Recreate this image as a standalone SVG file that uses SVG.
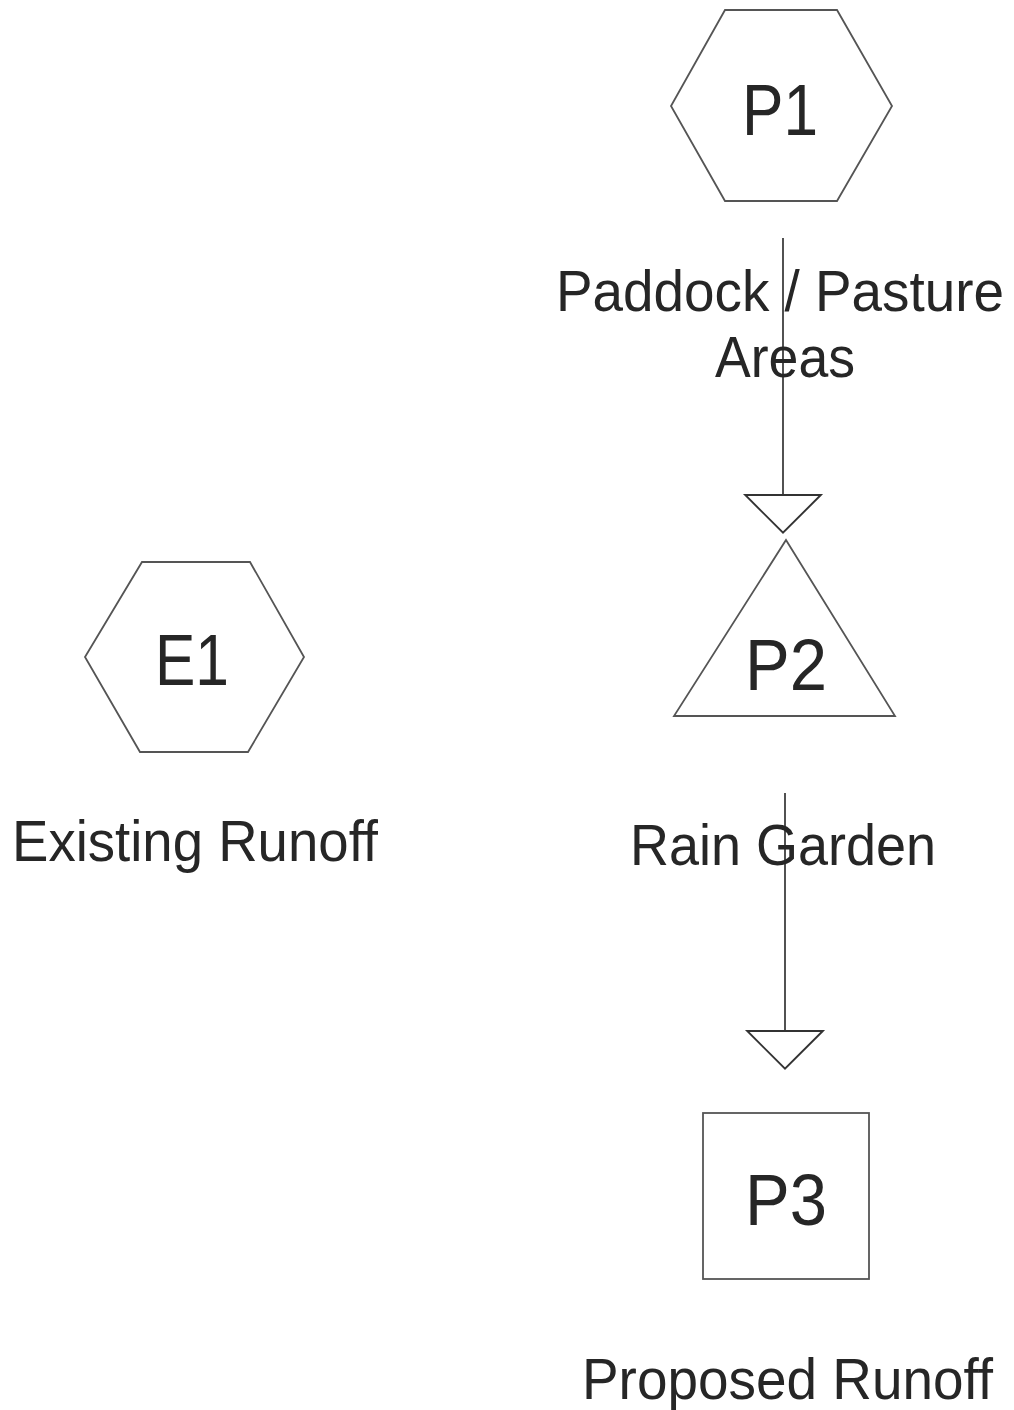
<svg xmlns="http://www.w3.org/2000/svg" width="1014" height="1410" viewBox="0 0 1014 1410">
  <style>
    .shape { fill: #ffffff; stroke: #555555; stroke-width: 1.8; }
    .id { font-family: "Liberation Sans", Arial, sans-serif; font-size: 72px; fill: #262626; text-anchor: middle; }
    .label { font-family: "Liberation Sans", Arial, sans-serif; font-size: 58px; fill: #262626; }
    .link { stroke: #333333; stroke-width: 1.7; fill: none; marker-end: url(#open-tri); }
  </style>
  <defs>
    <!-- open triangular arrowhead, base sits on the line end -->
    <marker id="open-tri" markerUnits="userSpaceOnUse" orient="auto" refX="0" refY="0"
            markerWidth="80" markerHeight="80" viewBox="-2 -36 40 72" overflow="visible">
      <path d="M0,-34 L34,0 L0,34 Z" fill="#ffffff" stroke="#333333" stroke-width="1.7"/>
    </marker>
  </defs>
  <rect width="1014" height="1410" fill="#ffffff"/>

  <!-- connectors -->
  <g id="connectors">
    <line class="link" x1="783" y1="238" x2="783" y2="495"/>
    <line class="link" x1="785" y1="793" x2="785" y2="1031"/>
  </g>

  <!-- P1: paddock / pasture subcatchment -->
  <g id="node-P1">
    <polygon class="shape" points="725,10 837,10 892,106 837,201 725,201 671,106"/>
    <text class="id" x="780" y="135" textLength="76" lengthAdjust="spacingAndGlyphs">P1</text>
    <text class="label" x="780" y="311" text-anchor="middle" textLength="448" lengthAdjust="spacingAndGlyphs">Paddock / Pasture</text>
    <text class="label" x="785" y="377" text-anchor="middle" textLength="140" lengthAdjust="spacingAndGlyphs">Areas</text>
  </g>

  <!-- P2: rain garden pond -->
  <g id="node-P2">
    <polygon class="shape" points="786,540 895,716 674,716"/>
    <text class="id" x="786" y="690" textLength="82" lengthAdjust="spacingAndGlyphs">P2</text>
    <text class="label" x="630" y="865" textLength="306" lengthAdjust="spacingAndGlyphs">Rain Garden</text>
  </g>

  <!-- P3: proposed runoff link -->
  <g id="node-P3">
    <rect class="shape" x="703" y="1113" width="166" height="166"/>
    <text class="id" x="786" y="1225" textLength="82" lengthAdjust="spacingAndGlyphs">P3</text>
    <text class="label" x="582" y="1399" textLength="411" lengthAdjust="spacingAndGlyphs">Proposed Runoff</text>
  </g>

  <!-- E1: existing runoff subcatchment -->
  <g id="node-E1">
    <polygon class="shape" points="142,562 250,562 304,657 248,752 140,752 85,657"/>
    <text class="id" x="192" y="685" textLength="74" lengthAdjust="spacingAndGlyphs">E1</text>
    <text class="label" x="12" y="861" textLength="366" lengthAdjust="spacingAndGlyphs">Existing Runoff</text>
  </g>
</svg>
